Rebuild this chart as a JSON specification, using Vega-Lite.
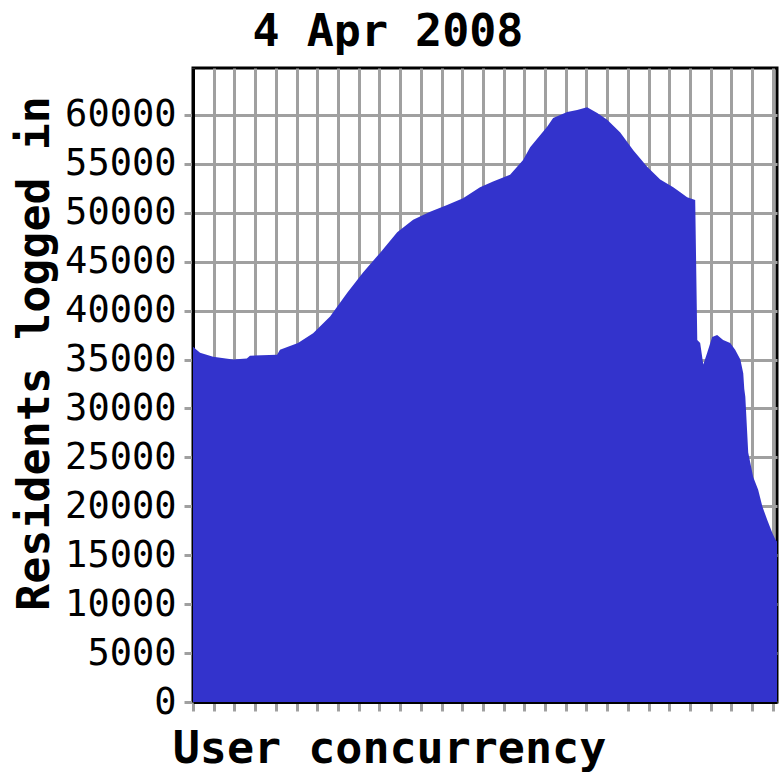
{
  "$schema": "https://vega.github.io/schema/vega-lite/v6.json",
  "autosize": {"type": "none"},
  "padding": {"left": 193, "top": 68, "right": 3, "bottom": 78},
  "width": 584,
  "height": 634,
  "background": "white",
  "config": {
    "font": "DejaVu Sans Mono",
    "view": {"stroke": "black", "strokeWidth": 3}
  },
  "title": {
    "text": "4 Apr 2008",
    "font": "DejaVu Sans Mono",
    "fontSize": 45,
    "fontWeight": "bold",
    "color": "black",
    "anchor": "middle",
    "frame": "group",
    "dx": -97,
    "offset": 13
  },
  "data": {
    "values": [
      {"t": 0, "residents": 36300},
      {"t": 0.34, "residents": 35700},
      {"t": 0.97, "residents": 35300},
      {"t": 1.93, "residents": 35000},
      {"t": 2.6, "residents": 35100},
      {"t": 2.75, "residents": 35400},
      {"t": 4.06, "residents": 35500},
      {"t": 4.2, "residents": 36000},
      {"t": 5.07, "residents": 36700},
      {"t": 5.8, "residents": 37700},
      {"t": 6.62, "residents": 39400},
      {"t": 7.44, "residents": 41800},
      {"t": 8.21, "residents": 43900},
      {"t": 9.03, "residents": 45900},
      {"t": 9.86, "residents": 48000},
      {"t": 10.63, "residents": 49300},
      {"t": 11.45, "residents": 50100},
      {"t": 12.27, "residents": 50800},
      {"t": 13.04, "residents": 51500},
      {"t": 13.86, "residents": 52600},
      {"t": 14.49, "residents": 53200},
      {"t": 15.31, "residents": 53900},
      {"t": 15.94, "residents": 55400},
      {"t": 16.28, "residents": 56700},
      {"t": 17.1, "residents": 58800},
      {"t": 17.39, "residents": 59700},
      {"t": 18.07, "residents": 60300},
      {"t": 18.55, "residents": 60500},
      {"t": 19.03, "residents": 60800},
      {"t": 19.52, "residents": 60200},
      {"t": 20.0, "residents": 59500},
      {"t": 20.63, "residents": 58200},
      {"t": 21.26, "residents": 56400},
      {"t": 21.93, "residents": 54700},
      {"t": 22.56, "residents": 53400},
      {"t": 23.19, "residents": 52600},
      {"t": 23.53, "residents": 52100},
      {"t": 23.86, "residents": 51600},
      {"t": 24.25, "residents": 51300},
      {"t": 24.35, "residents": 37000},
      {"t": 24.49, "residents": 36700},
      {"t": 24.64, "residents": 34500},
      {"t": 24.83, "residents": 35700},
      {"t": 25.07, "residents": 37300},
      {"t": 25.31, "residents": 37500},
      {"t": 25.6, "residents": 37000},
      {"t": 25.94, "residents": 36700},
      {"t": 26.18, "residents": 36000},
      {"t": 26.43, "residents": 35000},
      {"t": 26.57, "residents": 33600},
      {"t": 26.62, "residents": 32000},
      {"t": 26.67, "residents": 31200},
      {"t": 26.81, "residents": 25500},
      {"t": 27.05, "residents": 23000},
      {"t": 27.29, "residents": 21700},
      {"t": 27.49, "residents": 20000},
      {"t": 27.73, "residents": 18600},
      {"t": 27.97, "residents": 17300},
      {"t": 28.12, "residents": 16600},
      {"t": 28.2, "residents": 16400}
    ]
  },
  "mark": {"type": "area", "color": "#3333cc", "interpolate": "linear"},
  "encoding": {
    "x": {
      "field": "t",
      "type": "quantitative",
      "scale": {"domain": [0, 28.2], "nice": false, "zero": false},
      "axis": {
        "title": "User concurrency",
        "values": [0, 1, 2, 3, 4, 5, 6, 7, 8, 9, 10, 11, 12, 13, 14, 15, 16, 17, 18, 19, 20, 21, 22, 23, 24, 25, 26, 27, 28],
        "labels": false,
        "grid": true,
        "gridColor": "#a0a0a0",
        "gridWidth": 3,
        "gridOpacity": 1,
        "domainColor": "black",
        "domainWidth": 3,
        "tickColor": "#a0a0a0",
        "tickWidth": 3,
        "tickSize": 9,
        "titleFont": "DejaVu Sans Mono",
        "titleFontSize": 45,
        "titleFontWeight": "bold",
        "titleColor": "black",
        "titleAlign": "center",
        "titleBaseline": "alphabetic",
        "titleX": 196,
        "titleY": 60
      }
    },
    "y": {
      "field": "residents",
      "type": "quantitative",
      "scale": {"domain": [0, 64800], "nice": false},
      "axis": {
        "title": "Residents logged in",
        "values": [0, 5000, 10000, 15000, 20000, 25000, 30000, 35000, 40000, 45000, 50000, 55000, 60000],
        "format": "d",
        "grid": true,
        "gridColor": "#a0a0a0",
        "gridWidth": 3,
        "gridOpacity": 1,
        "domainColor": "black",
        "domainWidth": 3,
        "tickColor": "#a0a0a0",
        "tickWidth": 3,
        "tickSize": 9,
        "labelPadding": 8,
        "labelFont": "DejaVu Sans Mono",
        "labelFontSize": 37,
        "labelColor": "black",
        "labelBaseline": "middle",
        "titleFont": "DejaVu Sans Mono",
        "titleFontSize": 45,
        "titleFontWeight": "bold",
        "titleColor": "black",
        "titleAlign": "center",
        "titleBaseline": "alphabetic",
        "titleAngle": -90,
        "titleX": -145,
        "titleY": 285
      }
    }
  }
}
